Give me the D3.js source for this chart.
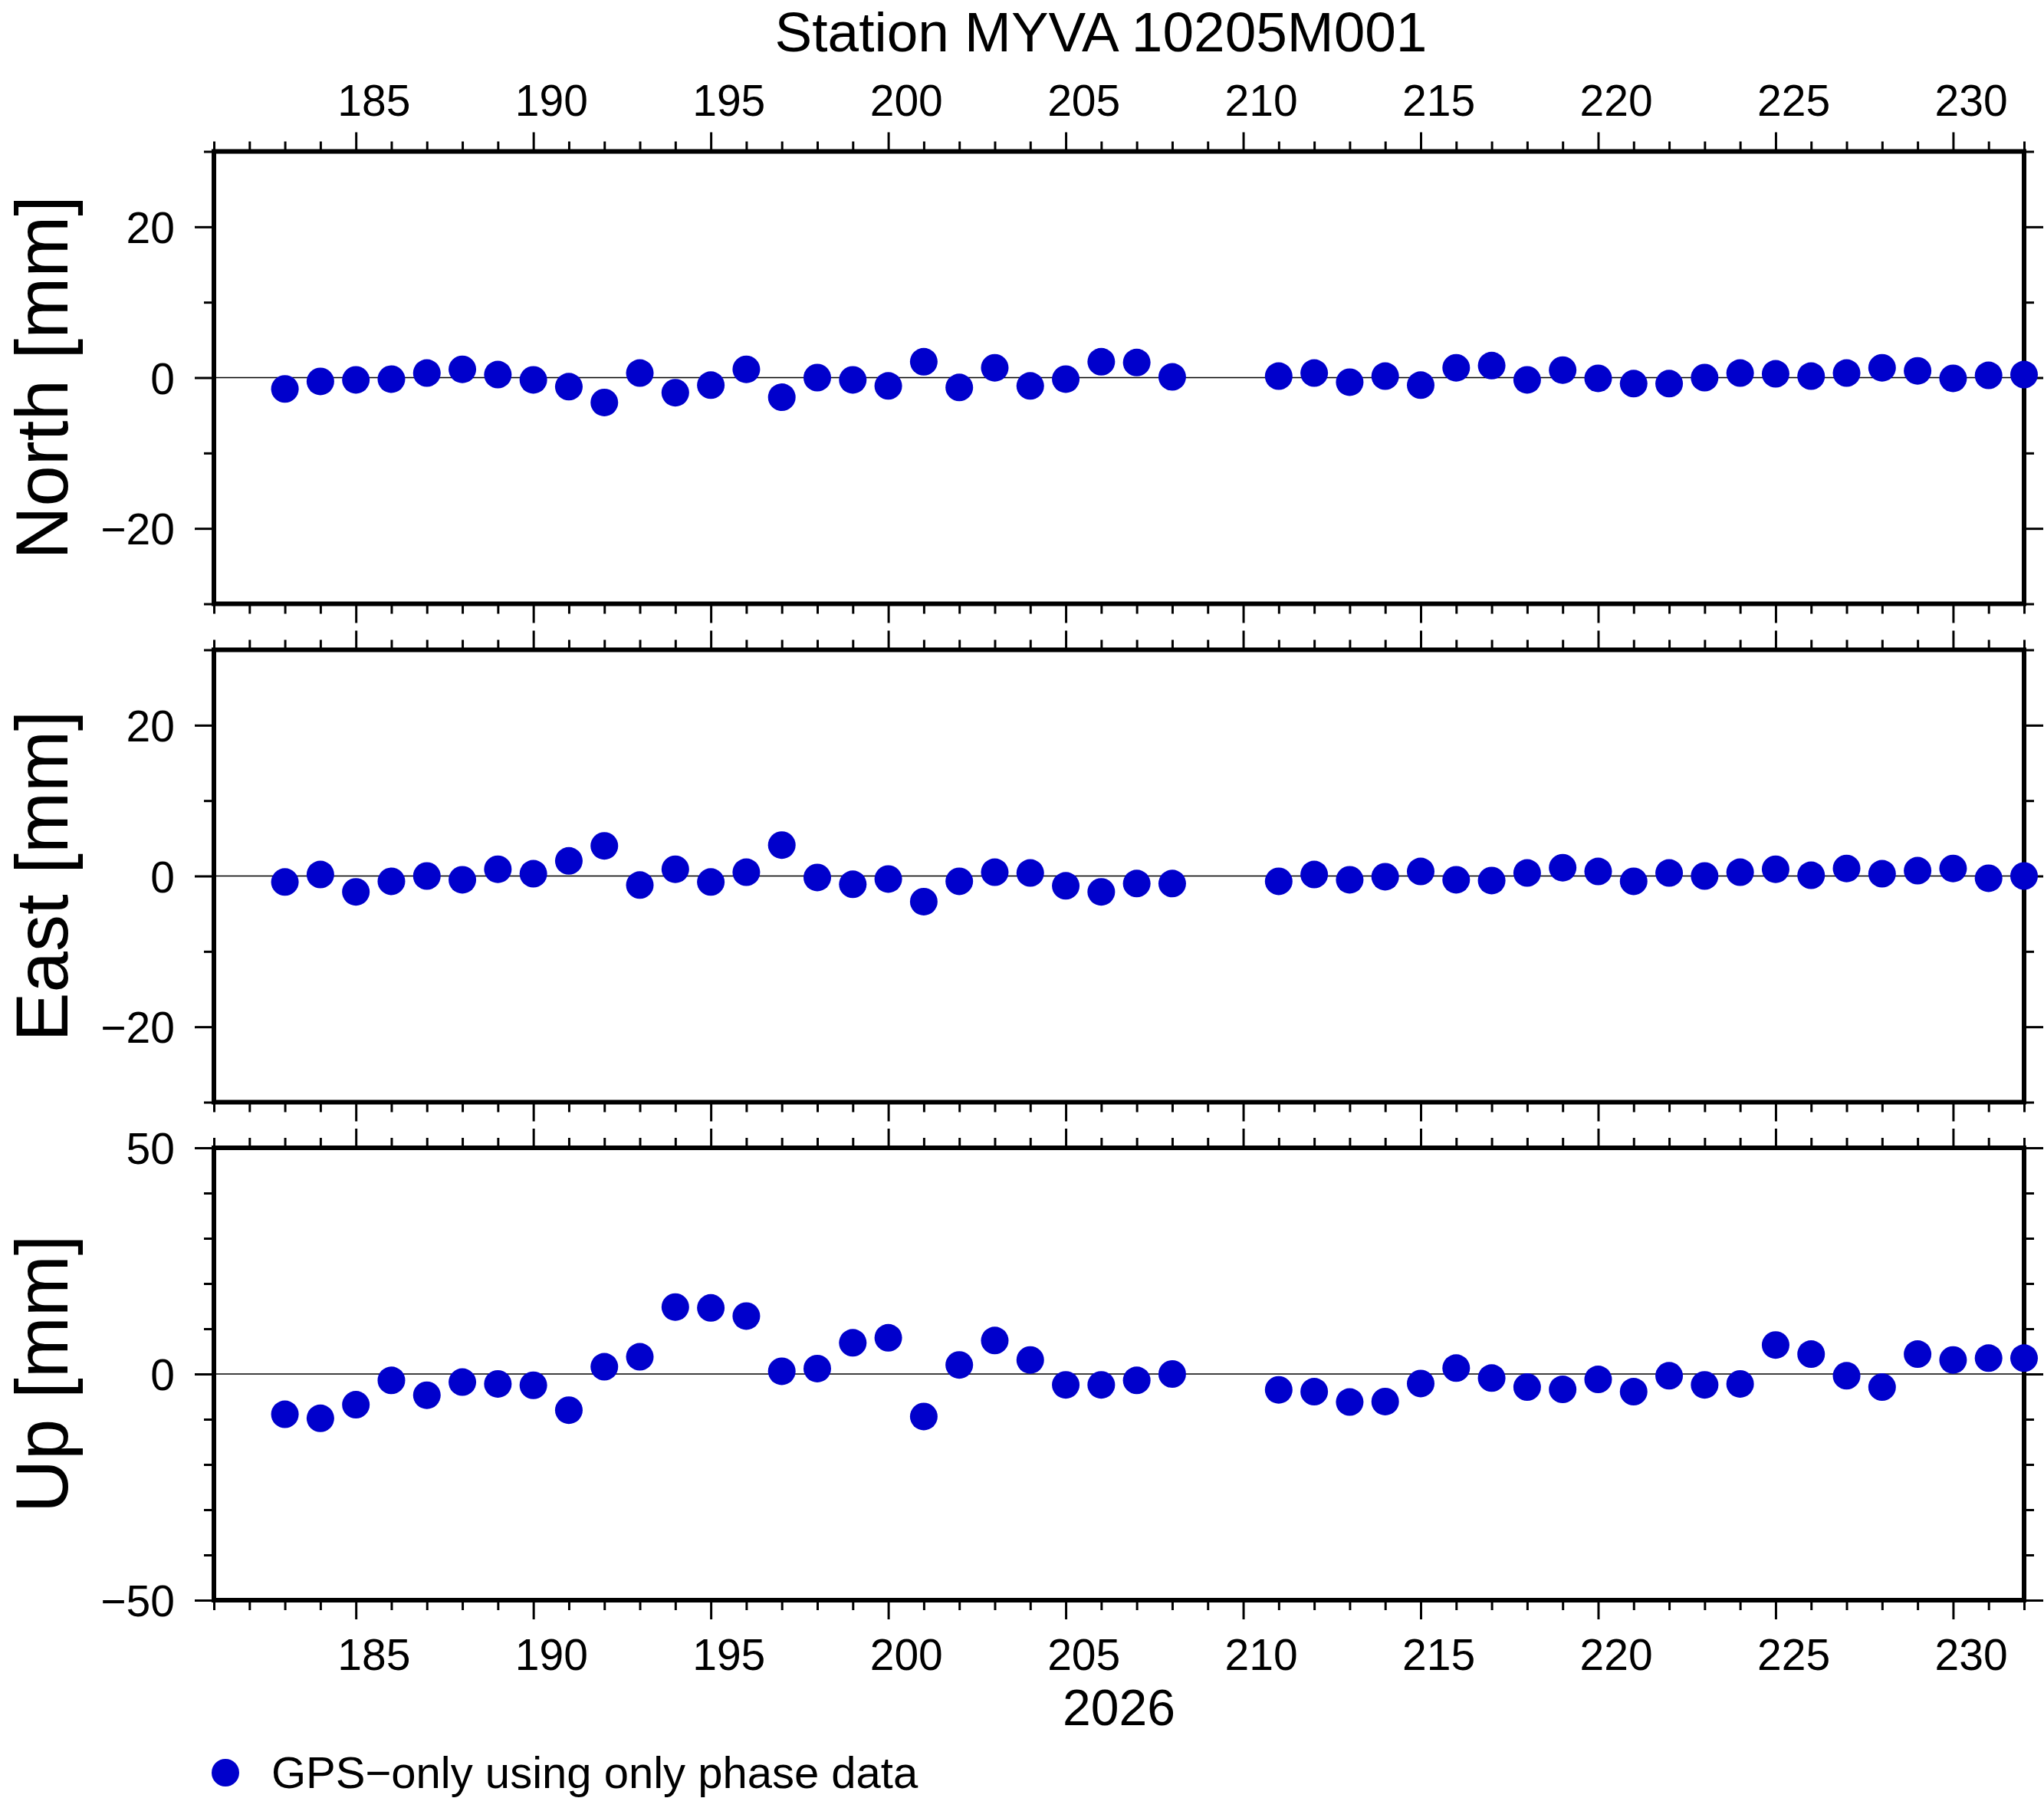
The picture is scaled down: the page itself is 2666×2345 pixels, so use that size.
<!DOCTYPE html>
<html>
<head>
<meta charset="utf-8">
<script src="https://cdn.jsdelivr.net/npm/d3@7"></script>
<style>
  body { margin: 0; background: #fff; }
  svg { display: block; }
  text { font-family: "Liberation Sans", Arial, Helvetica, sans-serif; fill: #000; }
</style>
</head>
<body>
<div id="chart"></div>
<script>
// day of year 2026
var days = [183, 184, 185, 186, 187, 188, 189, 190, 191, 192, 193, 194, 195,
            196, 197, 198, 199, 200, 201, 202, 203, 204, 205, 206, 207, 208,
            211, 212, 213, 214, 215, 216, 217, 218, 219, 220, 221, 222, 223,
            224, 225, 226, 227, 228, 229, 230, 231, 232];

var north = [-1.5, -0.5, -0.3, -0.2, 0.6, 1.1, 0.4, -0.3, -1.2, -3.3, 0.6, -2.0, -1.0,
             1.1, -2.6, 0.0, -0.3, -1.1, 2.1, -1.3, 1.3, -1.1, -0.2, 2.1, 2.0, 0.1,
             0.2, 0.6, -0.6, 0.2, -1.0, 1.3, 1.6, -0.3, 1.0, -0.1, -0.8, -0.8, 0.0,
             0.6, 0.5, 0.2, 0.6, 1.3, 0.9, -0.1, 0.3, 0.4];

var east = [-0.8, 0.2, -2.1, -0.7, 0.0, -0.5, 0.9, 0.3, 2.0, 4.0, -1.2, 0.9, -0.8,
            0.5, 4.1, -0.2, -1.1, -0.4, -3.4, -0.7, 0.5, 0.4, -1.3, -2.1, -1.0, -1.0,
            -0.7, 0.2, -0.5, -0.1, 0.6, -0.5, -0.6, 0.4, 1.1, 0.6, -0.7, 0.4, 0.0,
            0.5, 0.9, 0.1, 1.0, 0.3, 0.7, 1.0, -0.3, 0.0];

var up = [-8.9, -9.8, -6.8, -1.4, -4.7, -1.8, -2.2, -2.5, -8.0, 1.6, 3.8, 14.8, 14.6,
          12.8, 0.6, 1.2, 6.9, 8.0, -9.4, 2.0, 7.4, 3.1, -2.4, -2.4, -1.4, 0.0,
          -3.5, -3.9, -6.2, -6.1, -2.1, 1.3, -0.9, -2.9, -3.4, -1.2, -3.9, -0.4, -2.4,
          -2.2, 6.4, 4.4, -0.4, -2.9, 4.4, 3.1, 3.5, 3.5];

var labels = ["North [mm]", "East [mm]", "Up [mm]"];
var yDomains = [[-30, 30], [-30, 30], [-50, 50]];
var yMajor = [[-20, 0, 20], [-20, 0, 20], [-50, 0, 50]];
var yMinor = [[-30, -10, 10, 30], [-30, -10, 10, 30], [-40, -30, -20, -10, 10, 20, 30, 40]];
var xDomain = [181, 232];
var xMajor = [185, 190, 195, 200, 205, 210, 215, 220, 225, 230];

var width = 2666, height = 2345;
var left = 279, right = 2640;
var panelTops = [197.5, 847.5, 1497];
var panelH = 590;
var majorLen = 25, minorLen = 13;
var dotColor = "#0000cc";

var series = [north, east, up];
var minus = function(v) { return String(v).replace("-", "\u2212"); };

var svg = d3.select("#chart").append("svg")
    .attr("width", width)
    .attr("height", height);

svg.append("rect").attr("width", width).attr("height", height).attr("fill", "#fff");

var x = d3.scaleLinear().domain(xDomain).range([left, right]);
var xMinor = d3.range(181, 233).filter(function(d) { return d % 5 !== 0; });
var halfDay = (x(182) - x(181)) / 2;

function styleAxis(g) {
    g.select(".domain").remove();
    g.selectAll(".tick line").attr("stroke", "#000").attr("stroke-width", 3);
    g.selectAll(".tick text")
        .style("font-size", "57px")
        .style("font-family", "'Liberation Sans', Arial, sans-serif");
}

panelTops.forEach(function(top, i) {
    var y = d3.scaleLinear().domain(yDomains[i]).range([panelH, 0]);
    var g = svg.append("g").attr("transform", "translate(0," + top + ")");

    // zero line
    g.append("line")
        .attr("x1", left).attr("x2", right)
        .attr("y1", y(0)).attr("y2", y(0))
        .attr("stroke", "#000").attr("stroke-width", 1.3);

    // y axes, left with labels
    g.append("g").attr("transform", "translate(" + left + ",0)")
        .call(d3.axisLeft(y).tickValues(yMajor[i]).tickSize(majorLen).tickPadding(26)
            .tickFormat(minus))
        .call(styleAxis)
        .selectAll(".tick text").attr("dy", "0.36em");
    g.append("g").attr("transform", "translate(" + left + ",0)")
        .call(d3.axisLeft(y).tickValues(yMinor[i]).tickSize(minorLen).tickFormat(""))
        .call(styleAxis);
    g.append("g").attr("transform", "translate(" + right + ",0)")
        .call(d3.axisRight(y).tickValues(yMajor[i]).tickSize(majorLen).tickFormat(""))
        .call(styleAxis);
    g.append("g").attr("transform", "translate(" + right + ",0)")
        .call(d3.axisRight(y).tickValues(yMinor[i]).tickSize(minorLen).tickFormat(""))
        .call(styleAxis);

    // x axes, top and bottom
    var topAx = g.append("g")
        .call(d3.axisTop(x).tickValues(xMajor).tickSize(majorLen).tickPadding(22)
            .tickFormat(i === 0 ? d3.format("d") : ""))
        .call(styleAxis);
    topAx.selectAll(".tick text").attr("x", halfDay);
    g.append("g")
        .call(d3.axisTop(x).tickValues(xMinor).tickSize(minorLen).tickFormat(""))
        .call(styleAxis);

    var botAx = g.append("g").attr("transform", "translate(0," + panelH + ")")
        .call(d3.axisBottom(x).tickValues(xMajor).tickSize(majorLen).tickPadding(26)
            .tickFormat(i === 2 ? d3.format("d") : ""))
        .call(styleAxis);
    botAx.selectAll(".tick text").attr("x", halfDay);
    g.append("g").attr("transform", "translate(0," + panelH + ")")
        .call(d3.axisBottom(x).tickValues(xMinor).tickSize(minorLen).tickFormat(""))
        .call(styleAxis);

    // frame
    g.append("rect")
        .attr("x", left).attr("y", 0)
        .attr("width", right - left).attr("height", panelH)
        .attr("fill", "none").attr("stroke", "#000").attr("stroke-width", 6);

    // y label
    g.append("text")
        .attr("transform", "translate(88," + (panelH / 2) + ") rotate(-90)")
        .attr("text-anchor", "middle")
        .style("font-size", "96px")
        .text(labels[i]);

    // points
    g.selectAll(".pt")
        .data(days.map(function(d, j) { return {day: d, v: series[i][j]}; }))
        .enter().append("circle")
        .attr("class", "pt")
        .attr("cx", function(d) { return x(d.day); })
        .attr("cy", function(d) { return y(d.v); })
        .attr("r", 18)
        .attr("fill", dotColor);
});

// title
svg.append("text")
    .attr("x", 1436).attr("y", 67)
    .attr("text-anchor", "middle")
    .style("font-size", "73px")
    .text("Station MYVA 10205M001");

// year under bottom axis
svg.append("text")
    .attr("x", (left + right) / 2).attr("y", 2250)
    .attr("text-anchor", "middle")
    .style("font-size", "66px")
    .text("2026");

// legend
svg.append("circle")
    .attr("cx", 294).attr("cy", 2312).attr("r", 18)
    .attr("fill", dotColor);
svg.append("text")
    .attr("x", 354).attr("y", 2332)
    .style("font-size", "58px")
    .text("GPS\u2212only using only phase data");
</script>
</body>
</html>
